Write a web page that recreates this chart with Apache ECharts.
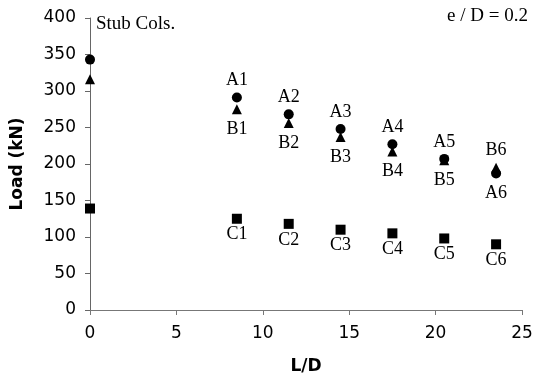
<!DOCTYPE html>
<html>
<head>
<meta charset="utf-8">
<script src="https://cdn.jsdelivr.net/npm/echarts@6/dist/echarts.min.js"></script>
<style>
html,body{margin:0;padding:0;background:#fff;}
#c{width:535px;height:377px;}
</style>
</head>
<body>
<div id="c"></div>
<script>
// L/D values
var ldValues = [0, 8.5, 11.5, 14.5, 17.5, 20.5, 23.5];
// Series A (circles)
var loadA = [343, 291, 268, 248, 227, 207, 187];
var namesA = ['', 'A1', 'A2', 'A3', 'A4', 'A5', 'A6'];
// Series B (triangles)
var loadB = [316, 275, 256, 237, 217, 205, 195];
var namesB = ['', 'B1', 'B2', 'B3', 'B4', 'B5', 'B6'];
// Series C (squares)
var loadC = [139, 125, 118, 110, 105, 98, 90];
var namesC = ['', 'C1', 'C2', 'C3', 'C4', 'C5', 'C6'];
// Axis ticks
var xTicks = [0, 5, 10, 15, 20, 25];
var yTicks = [0, 50, 100, 150, 200, 250, 300, 350, 400];

var serif = '"Liberation Serif", "DejaVu Serif", serif';
var sans = '"DejaVu Sans", "Liberation Sans", sans-serif';

function build(vals, names, defPos, altPos, defDist, altDist) {
  return ldValues.map(function (x, i) {
    var last = i === ldValues.length - 1;
    return {
      value: [x, vals[i]],
      name: names[i],
      label: {
        show: names[i] !== '',
        position: last ? altPos : defPos,
        distance: last ? altDist : defDist
      }
    };
  });
}

var labelStyle = {
  formatter: function (p) { return p.name; },
  fontFamily: serif, fontSize: 18, color: '#000'
};

var chart = echarts.init(document.getElementById('c'), null, {renderer: 'canvas'});
chart.setOption({
  animation: false,
  backgroundColor: '#fff',
  grid: {left: 90, right: 13, top: 18, bottom: 67, containLabel: false, outerBoundsMode: 'none'},
  xAxis: {
    type: 'value', min: 0, max: 25, interval: 5,
    name: 'L/D', nameLocation: 'middle', nameGap: 48,
    nameTextStyle: {fontFamily: sans, fontWeight: 'bold', fontSize: 17, color: '#000'},
    axisLine: {show: true, lineStyle: {color: '#777', width: 1}},
    axisTick: {show: true, length: 5, lineStyle: {color: '#777'}},
    axisLabel: {margin: 15, fontFamily: sans, fontSize: 17, color: '#000'},
    splitLine: {show: false}
  },
  yAxis: {
    type: 'value', min: 0, max: 400, interval: 50,
    name: 'Load (kN)', nameLocation: 'middle', nameGap: 64, nameRotate: 90,
    nameTextStyle: {fontFamily: sans, fontWeight: 'bold', fontSize: 17, color: '#000'},
    axisLine: {show: true, lineStyle: {color: '#666', width: 1}},
    axisTick: {show: true, length: 5, lineStyle: {color: '#666'}},
    axisLabel: {margin: 14, fontFamily: sans, fontSize: 17, color: '#000'},
    splitLine: {show: false}
  },
  series: [
    {
      type: 'scatter', symbol: 'circle', symbolSize: 10,
      itemStyle: {color: '#000', opacity: 1},
      label: labelStyle,
      data: build(loadA, namesA, 'top', 'bottom', 3, 6)
    },
    {
      type: 'scatter', symbol: 'triangle', symbolSize: 10,
      itemStyle: {color: '#000', opacity: 1},
      label: labelStyle,
      data: build(loadB, namesB, 'bottom', 'top', 6, 3)
    },
    {
      type: 'scatter', symbol: 'rect', symbolSize: 10,
      itemStyle: {color: '#000', opacity: 1},
      label: labelStyle,
      data: build(loadC, namesC, 'bottom', 'bottom', 2, 2)
    }
  ],
  graphic: [
    {type: 'text', left: 96, top: 15,
     style: {text: 'Stub Cols.', fontFamily: serif, fontSize: 19, fill: '#000'}},
    {type: 'text', right: 7, top: 7,
     style: {text: 'e / D = 0.2', fontFamily: serif, fontSize: 19, fill: '#000'}}
  ]
});
</script>
</body>
</html>
